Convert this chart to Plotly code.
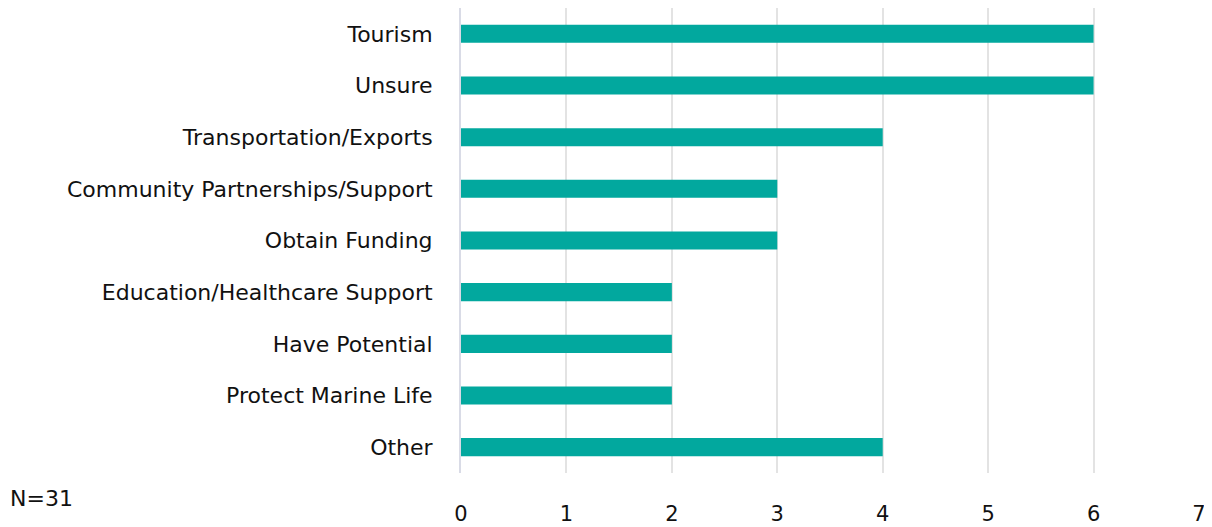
import plotly.graph_objects as go

categories = ["Tourism", "Unsure", "Transportation/Exports", "Community Partnerships/Support",
              "Obtain Funding", "Education/Healthcare Support", "Have Potential",
              "Protect Marine Life", "Other"]
values = [6, 6, 4, 3, 3, 2, 2, 2, 4]
x_ticks = [0, 1, 2, 3, 4, 5, 6, 7]

fig = go.Figure(go.Bar(
    y=categories, x=values, orientation="h",
    marker=dict(color="#02A89E", line=dict(width=0)),
    width=0.35,
))

font = "DejaVu Sans, sans-serif"
# page body has an 8px margin, so the figure is offset by 8px
fig.update_layout(
    width=1204, height=519,
    margin=dict(l=453, r=13, t=0, b=54, autoexpand=False),
    plot_bgcolor="white", paper_bgcolor="white",
    showlegend=False,
    font=dict(family=font, size=22, color="#111111"),
    xaxis=dict(range=[0, 7], tickvals=x_ticks, showgrid=True, gridcolor="#e3e3e3",
               gridwidth=2, zeroline=False, showline=False, automargin=False,
               ticks="outside", ticklen=22, tickcolor="rgba(0,0,0,0)",
               tickfont=dict(size=21, family=font)),
    yaxis=dict(categoryorder="array", categoryarray=categories[::-1], automargin=False,
               showgrid=False, zeroline=False, showline=True, linecolor="#d9dbe6", linewidth=2,
               ticks="outside", ticklen=22, tickcolor="rgba(0,0,0,0)",
               tickfont=dict(size=22, family=font)),
    annotations=[dict(text="N=31", xref="paper", yref="paper", x=-453/738, y=-25/465,
                      xanchor="left", yanchor="middle", showarrow=False,
                      font=dict(size=22, family=font, color="#111111"))],
)
fig.write_html("out.html")
